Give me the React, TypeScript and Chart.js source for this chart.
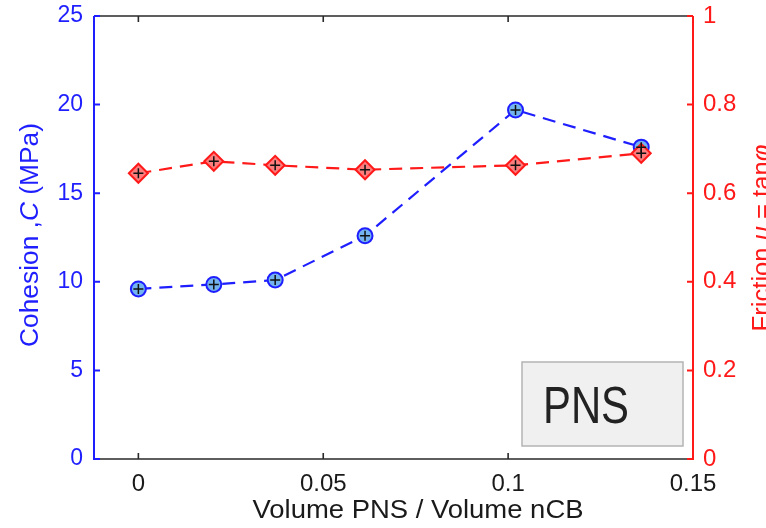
import React, { useEffect, useRef } from 'react';
import { Chart, registerables } from 'chart.js';

Chart.register(...registerables);

// ---- data ----
const X_VALUES = [0, 0.0204, 0.037, 0.0613, 0.102, 0.136];
const COHESION = [9.6, 9.85, 10.1, 12.6, 19.7, 17.6];
const FRICTION = [0.645, 0.672, 0.663, 0.653, 0.663, 0.69];

const X_MIN = -0.012;
const X_MAX = 0.15;
const X_TICKS = [0, 0.05, 0.1, 0.15];
const X_TICK_LABELS = ['0', '0.05', '0.1', '0.15'];
const C_TICKS = [0, 5, 10, 15, 20, 25];
const C_TICK_LABELS = ['0', '5', '10', '15', '20', '25'];
const F_TICKS = [0, 0.2, 0.4, 0.6, 0.8, 1];
const F_TICK_LABELS = ['0', '0.2', '0.4', '0.6', '0.8', '1'];

const X_TITLE = 'Volume PNS / Volume nCB';
const C_TITLE_PARTS: [string, boolean][] = [['Cohesion ,', false], ['C', true], [' (MPa)', false]];
const F_TITLE_PARTS: [string, boolean][] = [['Friction ', false], ['\u03BC', true], [' = tan', false], ['\u03C6', true]];
const BOX_LABEL = 'PNS';

const BLUE = 'rgb(30,30,255)';
const RED = 'rgb(255,25,25)';
const FONT = "'Liberation Sans', Arial, Helvetica, sans-serif";

function drawParts(
  ctx: CanvasRenderingContext2D,
  parts: [string, boolean][],
  size: number,
  targetWidth: number,
  color: string,
) {
  let total = 0;
  const widths: number[] = [];
  for (const [t, it] of parts) {
    ctx.font = `${it ? 'italic ' : ''}${size}px ${FONT}`;
    const w = ctx.measureText(t).width;
    widths.push(w);
    total += w;
  }
  const sx = targetWidth / total;
  ctx.save();
  ctx.scale(sx, 1);
  ctx.fillStyle = color;
  ctx.textAlign = 'left';
  ctx.textBaseline = 'alphabetic';
  let x = -total / 2;
  parts.forEach(([t, it], i) => {
    ctx.font = `${it ? 'italic ' : ''}${size}px ${FONT}`;
    ctx.fillText(t, x, 0);
    x += widths[i];
  });
  ctx.restore();
}

const framePlugin = {
  id: 'framePlugin',
  afterDraw(chart: any) {
    const ctx: CanvasRenderingContext2D = chart.ctx;
    const { left, right, top, bottom } = chart.chartArea;
    const xs = chart.scales.x;
    const yc = chart.scales.yC;
    const yf = chart.scales.yF;
    const TL = 6;
    ctx.save();
    ctx.strokeStyle = '#2a2a2a';
    ctx.lineWidth = 1.6;
    ctx.beginPath();
    ctx.moveTo(left, top);
    ctx.lineTo(right, top);
    ctx.moveTo(left, bottom);
    ctx.lineTo(right, bottom);
    for (const v of X_TICKS) {
      const px = xs.getPixelForValue(v);
      ctx.moveTo(px, bottom);
      ctx.lineTo(px, bottom - TL);
      ctx.moveTo(px, top);
      ctx.lineTo(px, top + TL);
    }
    ctx.stroke();
    ctx.strokeStyle = BLUE;
    ctx.lineWidth = 2;
    ctx.beginPath();
    ctx.moveTo(left, top);
    ctx.lineTo(left, bottom + 1);
    for (const v of C_TICKS) {
      const py = yc.getPixelForValue(v);
      ctx.moveTo(left, py);
      ctx.lineTo(left + TL, py);
    }
    ctx.stroke();
    ctx.strokeStyle = RED;
    ctx.beginPath();
    ctx.moveTo(right, top);
    ctx.lineTo(right, bottom + 1);
    for (const v of F_TICKS) {
      const py = yf.getPixelForValue(v);
      ctx.moveTo(right, py);
      ctx.lineTo(right - TL, py);
    }
    ctx.stroke();

    ctx.save();
    ctx.translate(418, 518);
    drawParts(ctx, [[X_TITLE, false]], 26, 331, '#1a1a1a');
    ctx.restore();

    ctx.save();
    ctx.translate(38, 235);
    ctx.rotate(-Math.PI / 2);
    drawParts(ctx, C_TITLE_PARTS, 26, 224, BLUE);
    ctx.restore();

    ctx.save();
    ctx.translate(770, 238);
    ctx.rotate(-Math.PI / 2);
    drawParts(ctx, F_TITLE_PARTS, 25, 187, RED);
    ctx.restore();

    ctx.fillStyle = '#f0f0f0';
    ctx.fillRect(522, 362, 161, 84);
    ctx.strokeStyle = '#b4b4b4';
    ctx.lineWidth = 1.5;
    ctx.strokeRect(522, 362, 161, 84);
    ctx.save();
    ctx.translate(543 + 43, 423);
    drawParts(ctx, [[BOX_LABEL, false]], 51, 86, '#222222');
    ctx.restore();

    ctx.restore();
  },
};

export default function App() {
  const canvasRef = useRef<HTMLCanvasElement | null>(null);

  useEffect(() => {
    const canvas = canvasRef.current;
    if (!canvas) return;
    const cohesionPts = X_VALUES.map((x, i) => ({ x, y: COHESION[i] }));
    const frictionPts = X_VALUES.map((x, i) => ({ x, y: FRICTION[i] }));

    const chart = new Chart(canvas, {
      type: 'line',
      data: {
        datasets: [
          {
            label: 'Cohesion markers',
            data: cohesionPts,
            yAxisID: 'yC',
            showLine: false,
            pointStyle: 'cross',
            pointRadius: 5,
            pointBorderWidth: 1.5,
            pointBorderColor: '#111',
            borderColor: '#111',
            order: 0,
          },
          {
            label: 'Friction markers',
            data: frictionPts,
            yAxisID: 'yF',
            showLine: false,
            pointStyle: 'cross',
            pointRadius: 5,
            pointBorderWidth: 1.5,
            pointBorderColor: '#111',
            borderColor: '#111',
            order: 0,
          },
          {
            label: 'Friction',
            data: frictionPts,
            yAxisID: 'yF',
            borderColor: RED,
            borderWidth: 2.2,
            borderDash: [13, 8],
            pointStyle: 'rectRot',
            pointRadius: 9.5,
            pointBackgroundColor: 'rgb(255,125,125)',
            pointBorderColor: RED,
            pointBorderWidth: 2,
            tension: 0,
            order: 1,
          },
          {
            label: 'Cohesion',
            data: cohesionPts,
            yAxisID: 'yC',
            borderColor: BLUE,
            borderWidth: 2.2,
            borderDash: [13, 8],
            pointStyle: 'circle',
            pointRadius: 7.5,
            pointBackgroundColor: 'rgb(115,180,240)',
            pointBorderColor: BLUE,
            pointBorderWidth: 2,
            tension: 0,
            order: 2,
          },
        ],
      },
      options: {
        responsive: false,
        animation: false,
        devicePixelRatio: 1,
        layout: { padding: { top: 16, left: 0, right: 0, bottom: 0 } },
        plugins: {
          legend: { display: false },
          tooltip: { enabled: false },
        },
        scales: {
          x: {
            type: 'linear',
            position: 'bottom',
            min: X_MIN,
            max: X_MAX,
            grid: { display: false },
            border: { display: false },
            afterBuildTicks: (s: any) => {
              s.ticks = X_TICKS.map((v) => ({ value: v }));
            },
            afterFit: (s: any) => {
              s.height = 69;
              s.paddingLeft = 0;
              s.paddingRight = 0;
            },
            ticks: {
              autoSkip: false,
              maxRotation: 0,
              padding: 3,
              color: '#1a1a1a',
              font: { family: FONT, size: 24 },
              callback: (_v: any, i: number) => X_TICK_LABELS[i],
            },
          },
          yC: {
            type: 'linear',
            position: 'left',
            min: 0,
            max: 25,
            grid: { display: false, drawTicks: false },
            border: { display: false },
            afterBuildTicks: (s: any) => {
              s.ticks = C_TICKS.map((v) => ({ value: v }));
            },
            afterFit: (s: any) => {
              s.width = 94;
              s.paddingTop = 0;
              s.paddingBottom = 0;
            },
            ticks: {
              autoSkip: false,
              padding: 11,
              color: BLUE,
              font: { family: FONT, size: 23 },
              callback: (_v: any, i: number) => C_TICK_LABELS[i],
            },
          },
          yF: {
            type: 'linear',
            position: 'right',
            min: 0,
            max: 1,
            grid: { display: false, drawTicks: false },
            border: { display: false },
            afterBuildTicks: (s: any) => {
              s.ticks = F_TICKS.map((v) => ({ value: v }));
            },
            afterFit: (s: any) => {
              s.width = 73;
              s.paddingTop = 0;
              s.paddingBottom = 0;
            },
            ticks: {
              autoSkip: false,
              padding: 10,
              color: RED,
              font: { family: FONT, size: 24 },
              callback: (_v: any, i: number) => F_TICK_LABELS[i],
            },
          },
        },
      },
      plugins: [framePlugin],
    } as any);

    return () => {
      chart.destroy();
    };
  }, []);

  return (
    <div style={{ position: 'absolute', left: 0, top: 0, width: 766, height: 528, background: '#fff' }}>
      <canvas ref={canvasRef} width={766} height={528} style={{ display: 'block' }} />
    </div>
  );
}
